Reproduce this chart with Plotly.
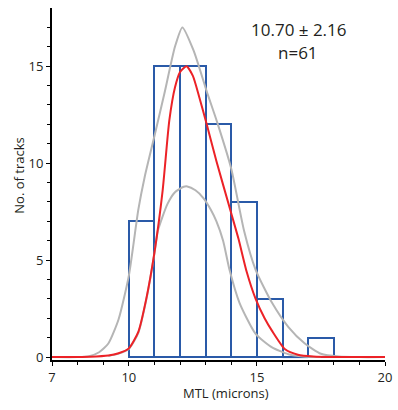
import plotly.graph_objects as go

# Histogram bins (left edge) and counts
bin_left = [10, 11, 12, 13, 14, 15, 16, 17]
counts = [7, 15, 15, 12, 8, 3, 0, 1]

# Fitted curve (red)
fit_x = [7, 8.5, 9.2, 9.6, 10.0, 10.37, 10.68, 11.0, 11.32, 11.58, 11.8, 12.0, 12.25,
         12.5, 12.75, 13.04, 13.42, 14.0, 14.28, 14.6, 14.95, 15.3, 15.59, 16.1,
         16.6, 17.2, 18, 20]
fit_y = [0, 0.02, 0.08, 0.2, 0.45, 1.3, 3.0, 5.4, 8.6, 12.2, 13.9, 14.7, 15.0,
         14.5, 13.4, 12.0, 10.1, 7.4, 6.1, 4.4, 3.0, 2.0, 1.35, 0.4,
         0.12, 0.03, 0, 0]

# Upper envelope (grey)
up_x = [7, 8, 8.45, 8.84, 9.2, 9.6, 10.0, 10.37, 10.62, 11.0, 11.39, 11.8, 12.09, 12.53,
        13.04, 13.45, 14.0, 14.5, 14.95, 15.59, 16.23, 16.87, 17.5, 18.2, 19, 20]
up_y = [0, 0, 0.05, 0.25, 0.7, 1.95, 4.2, 7.6, 9.3, 11.4, 13.6, 16.0, 17.0, 15.8,
        13.7, 12.1, 9.7, 6.5, 4.5, 2.8, 1.55, 0.7, 0.17, 0.03, 0, 0]

# Lower envelope (grey)
lo_x = [9.2, 9.6, 10.0, 10.37, 10.68, 11.0, 11.13, 11.51, 11.8, 12.14, 12.28, 12.6,
        12.91, 13.2, 13.42, 13.68, 13.93, 14.32, 14.95, 15.59, 16.23, 16.8, 17.5]
lo_y = [0.06, 0.18, 0.42, 1.25, 2.95, 5.35, 6.5, 7.9, 8.5, 8.78, 8.8, 8.6,
        8.2, 7.6, 7.0, 6.0, 4.5, 2.8, 1.2, 0.5, 0.15, 0.03, 0]

mean_txt = "10.70 ± 2.16"
n_txt = "n=61"

BLUE = "#2a5aa8"
RED = "#ec2227"
GREY = "#b5b5b5"
TXT = "#231f20"
FONT = "Open Sans"

# plot-area geometry in px (for placing text)
L, R, T, B = 52, 392, 8, 360
W, H = R - L, B - T


def px_to_paper(xp, yp):
    return (xp - L) / W, (B - yp) / H


fig = go.Figure()

fig.add_trace(go.Bar(
    x=bin_left, y=counts, width=1, offset=0,
    marker=dict(color="rgba(0,0,0,0)", line=dict(color=BLUE, width=2)),
    showlegend=False, hoverinfo="skip"))

# baseline for empty bins
for bl, c in zip(bin_left, counts):
    if c == 0:
        fig.add_trace(go.Scatter(x=[bl, bl + 1], y=[0, 0], mode="lines",
                                 line=dict(color=BLUE, width=2),
                                 showlegend=False, hoverinfo="skip"))

for xs, ys, col in [(up_x, up_y, GREY), (lo_x, lo_y, GREY), (fit_x, fit_y, RED)]:
    fig.add_trace(go.Scatter(x=xs, y=ys, mode="lines",
                             line=dict(color=col, width=2, shape="spline", smoothing=0.6),
                             showlegend=False, hoverinfo="skip"))

ax, ay = px_to_paper(304, 29)
fig.add_annotation(xref="paper", yref="paper", x=ax, y=ay, xanchor="center", yanchor="middle",
                   text=mean_txt, showarrow=False, font=dict(family=FONT, size=17, color=TXT))
ax, ay = px_to_paper(303, 53)
fig.add_annotation(xref="paper", yref="paper", x=ax, y=ay, xanchor="center", yanchor="middle",
                   text=n_txt, showarrow=False, font=dict(family=FONT, size=17, color=TXT))

# axis titles
ax, ay = px_to_paper(230, 393)
fig.add_annotation(xref="paper", yref="paper", x=ax, y=ay, xanchor="center", yanchor="middle",
                   text="MTL (microns)", showarrow=False, font=dict(family=FONT, size=13, color=TXT))
ax, ay = px_to_paper(18, 176)
fig.add_annotation(xref="paper", yref="paper", x=ax, y=ay, xanchor="center", yanchor="middle",
                   textangle=-90, text="No. of tracks", showarrow=False,
                   font=dict(family=FONT, size=13, color=TXT))

fig.update_layout(
    width=398, height=410,
    margin=dict(l=L, r=398 - R, t=T, b=410 - B),
    plot_bgcolor="white", paper_bgcolor="white",
    font=dict(family=FONT, size=13, color=TXT),
    bargap=0,
)
fig.update_xaxes(
    range=[7, 20], showgrid=False, zeroline=False,
    showline=True, linecolor="black", linewidth=2,
    tickmode="array", tickvals=[7, 10, 15, 20],
    ticks="outside", ticklen=4, tickwidth=1, tickcolor="black",
    minor=dict(tickmode="array", tickvals=[8, 9, 11, 12, 13, 14, 16, 17, 18, 19],
               ticks="outside", ticklen=3, tickwidth=1, tickcolor="black"),
    tickfont=dict(size=13, color=TXT),
    ticklabeloverflow="allow",
)
fig.update_yaxes(
    range=[-0.15, 18], showgrid=False, zeroline=False,
    showline=True, linecolor="black", linewidth=2,
    tickmode="array", tickvals=[0, 5, 10, 15],
    ticks="outside", ticklen=4, tickwidth=1, tickcolor="black",
    minor=dict(tickmode="array", tickvals=[v for v in range(1, 18) if v % 5 != 0],
               ticks="outside", ticklen=3, tickwidth=1, tickcolor="black"),
    tickfont=dict(size=13, color=TXT),
    ticklabeloverflow="allow",
)

fig.write_html("out.html")
